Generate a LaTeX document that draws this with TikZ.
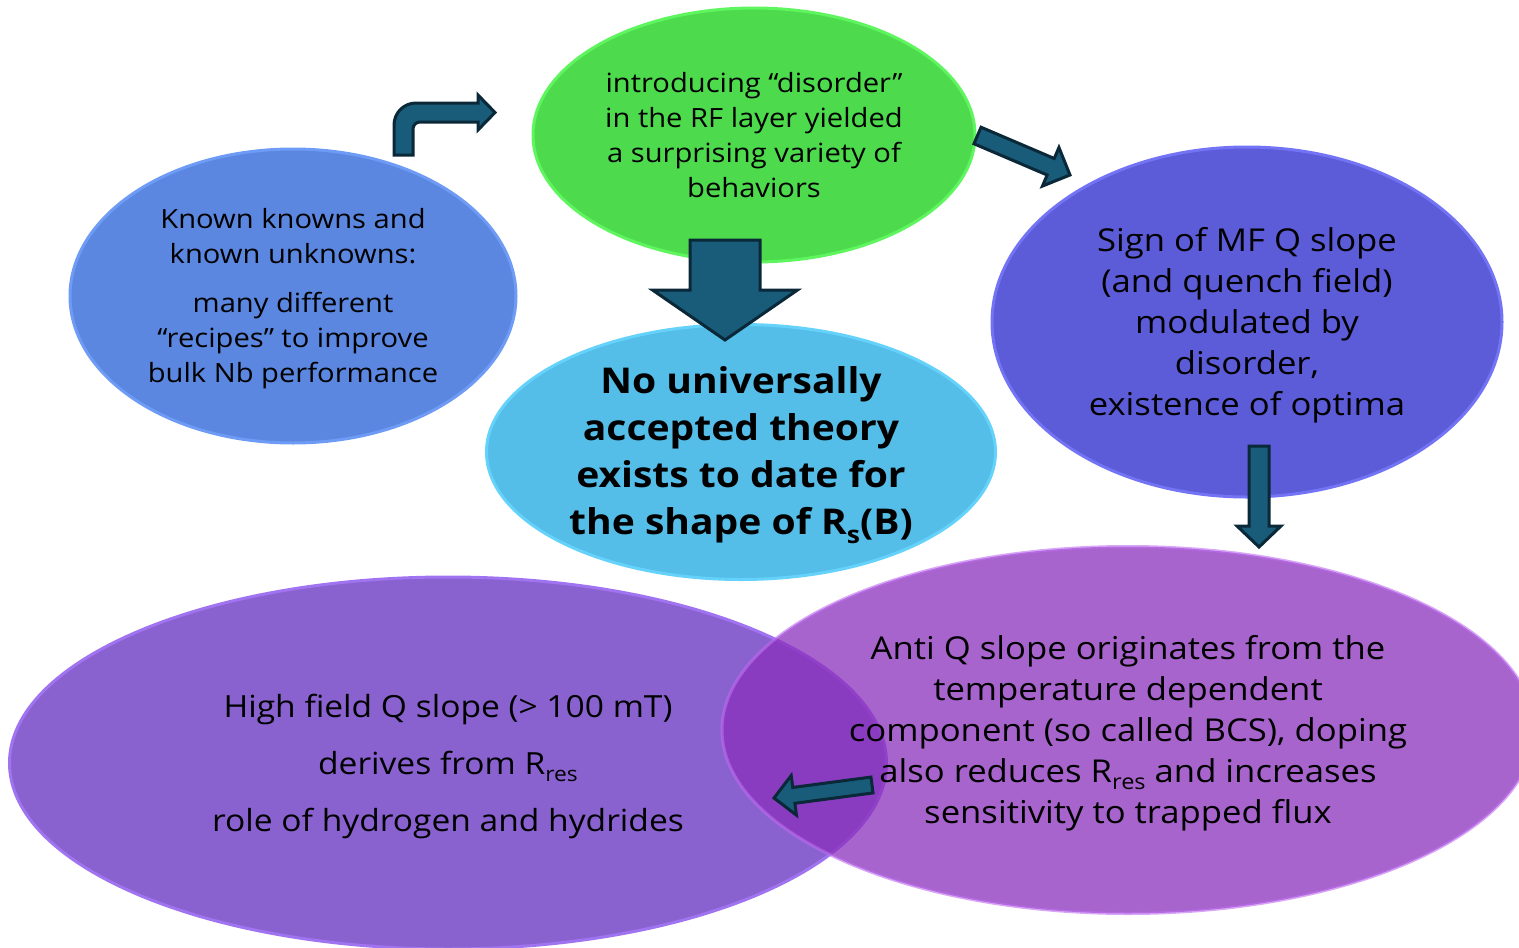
\documentclass[tikz,border=0pt]{standalone}
\usepackage{fontspec}
\setmainfont[FakeStretch=1.1]{Open Sans}
\usetikzlibrary{shapes.geometric,calc}
\definecolor{cblue}{RGB}{91,135,225}
\definecolor{cblueE}{RGB}{110,155,245}
\definecolor{cgreen}{RGB}{77,219,77}
\definecolor{cgreenE}{RGB}{95,245,95}
\definecolor{ccyan}{RGB}{85,190,232}
\definecolor{ccyanE}{RGB}{100,210,250}
\definecolor{cindigo}{RGB}{92,92,216}
\definecolor{cindigoE}{RGB}{115,115,245}
\definecolor{cviolet}{RGB}{138,98,208}
\definecolor{cvioletE}{RGB}{160,115,240}
\definecolor{cpurple}{RGB}{139,48,188}
\definecolor{cpurpleE}{RGB}{190,110,240}
\definecolor{arrfill}{RGB}{24,92,122}
\definecolor{arredge}{RGB}{10,40,56}
\newcommand{\blockarr}[5]{%
  \coordinate (bah) at ($(#2)!#5!(#1)$);
  \draw[blk] ($(#1)!#3!90:(#2)$) -- ($(bah)!#3!90:(#2)$) -- ($(bah)!#4!90:(#2)$) -- (#2)
    -- ($(bah)!#4!-90:(#2)$) -- ($(bah)!#3!-90:(#2)$) -- ($(#1)!#3!-90:(#2)$) -- cycle;}
\newcommand{\lowsub}[1]{\raisebox{-0.45ex}{\scalebox{0.68}{#1}}}
\begin{document}
\begin{tikzpicture}[x=1pt,y=-1pt,
  bub/.style={ellipse, inner sep=0pt, line width=3pt},
  txt/.style={align=center, text=black, inner sep=0pt, yshift=-3pt},
  blk/.style={fill=arrfill, draw=arredge, line width=3pt, line join=miter}]
\useasboundingbox (0,0) rectangle (1519,948);
\begin{scope}
\clip (0,0) rectangle (1519,948);
% ellipses
\node[bub, fill=cblue, draw=cblueE, minimum width=446pt, minimum height=294pt] (known) at (293,296) {};
\node[bub, fill=cgreen, draw=cgreenE, minimum width=442pt, minimum height=254pt] (disorder) at (754,135) {};
\node[bub, fill=ccyan, draw=ccyanE, minimum width=509pt, minimum height=255pt] (theory) at (741,452) {};
\node[bub, fill=cindigo, draw=cindigoE, minimum width=510pt, minimum height=350pt] (sign) at (1247,322) {};
\node[bub, fill=cviolet, draw=cvioletE, minimum width=877pt, minimum height=372pt] (high) at (448,763) {};
\node[bub, fill=cpurple, fill opacity=0.75, draw=cpurpleE, draw opacity=0.6, minimum width=812pt, minimum height=367pt] (anti) at (1128,730) {};
\end{scope}
% texts
\node[txt, font=\fontsize{26.5}{35}\selectfont] (knownT) at (known) {Known knowns and\\known unknowns:\\[14pt]many different\\“recipes” to improve\\bulk Nb performance};
\node[txt, yshift=2.5pt, font=\fontsize{26.5}{35}\selectfont] (disorderT) at (disorder) {introducing “disorder”\\in the RF layer yielded\\a surprising variety of\\behaviors};
\node[txt, font=\fontsize{35.5}{47}\selectfont\bfseries] (theoryT) at (theory) {No universally\\accepted theory\\exists to date for\\the shape of R\lowsub{s}(B)};
\node[txt, font=\fontsize{31.5}{41}\selectfont] (signT) at (sign) {Sign of MF Q slope\\(and quench field)\\modulated by\\disorder,\\existence of optima};
\node[txt, font=\fontsize{30.5}{57}\selectfont] (highT) at (high) {High field Q slope (> 100 mT)\\derives from R\lowsub{res}\\role of hydrogen and hydrides};
\node[txt, font=\fontsize{31.5}{41}\selectfont] (antiT) at (anti) {Anti Q slope originates from the\\temperature dependent\\component (so called BCS), doping\\also reduces R\lowsub{res} and increases\\sensitivity to trapped flux};
% arrow end points
\coordinate (a1s) at (725,240);  \coordinate (a1e) at (725,340);
\coordinate (a2s) at (977.5,135.5); \coordinate (a2e) at (1070,175);
\coordinate (a3s) at (1259,446); \coordinate (a3e) at (1259,547);
\coordinate (a4s) at (872,785); \coordinate (a4e) at (774,798);
% block arrows
\blockarr{a1s}{a1e}{35pt}{72.5pt}{50pt}
\blockarr{a2s}{a2e}{9pt}{21pt}{21pt}
\blockarr{a3s}{a3e}{10pt}{22pt}{21pt}
\blockarr{a4s}{a4e}{8pt}{20pt}{20pt}
% bent arrow from known towards disorder
\draw[blk] (394,155) -- (394,125) to[out=90,in=180] (416,103) -- (478,103) -- (478,95) -- (495,112.5)
  -- (478,130) -- (478,122) -- (420,122) to[out=180,in=90] (413,129) -- (413,155) -- cycle;
\end{tikzpicture}
\end{document}
